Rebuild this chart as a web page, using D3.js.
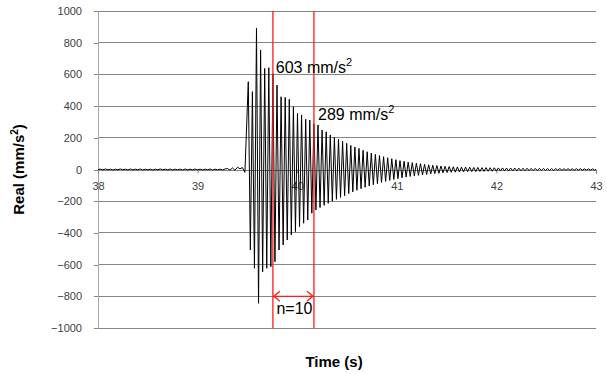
<!DOCTYPE html>
<html>
<head>
<meta charset="utf-8">
<script src="https://cdn.jsdelivr.net/npm/d3@7"></script>
<style>
  body { margin: 0; background: #fff; }
  svg { display: block; font-family: "Liberation Sans", Arial, sans-serif; }
</style>
</head>
<body>
<script>
// axis ticks
const xTicks = [38, 39, 40, 41, 42, 43];
const yTicks = [-1000, -800, -600, -400, -200, 0, 200, 400, 600, 800, 1000];

// quiet part before the hit (sampled every preStep seconds from 38 s)
const preStart = 38, preStep = 0.025;
const preValues = [0, 2, -2, 3, -2, 2, -3, 2, -2, 3,
  -2, 2, -3, 3, -2, 2, -2, 3, -3, 2,
  -2, 2, -3, 2, -2, 3, -2, 2, -2, 3,
  -3, 2, -2, 2, -3, 3, -2, 2, -2, 3,
  -2, 2, -3, 2, -2, 3, -3, 2, -2, 2,
  -3, 3, 6, -4, 10, -5, 14, 5, 12, -18];

// ringing: one positive and one negative peak per cycle
const ringStart = 39.509, cycle = 0.04116;
const peaksPos = [554, 491, 891, 754, 638, 642, 603, 533, 459, 455,
  443, 396, 354, 344, 317, 312, 289, 281, 249, 238,
  218, 203, 192, 178, 165, 152, 142, 133, 121, 112,
  104, 96, 88, 81, 74, 68, 62, 56, 52, 47,
  43, 40, 37, 33, 30, 27, 25, 22, 20, 19,
  17, 16, 15, 15, 14, 13, 13, 12, 12, 11,
  11, 10, 10, 9, 9, 9, 8, 8, 8, 7,
  7, 7, 7, 6, 6, 6, 6, 5, 5, 5,
  5, 5, 4, 4, 4];
const peaksNeg = [-508, -623, -844, -645, -623, -613, -582, -508, -476, -445,
  -413, -392, -361, -339, -319, -276, -255, -240, -226, -213,
  -200, -188, -176, -165, -152, -141, -131, -121, -112, -104,
  -96, -89, -82, -75, -69, -63, -58, -53, -48, -44,
  -40, -37, -34, -31, -28, -26, -24, -21, -19, -18,
  -17, -16, -15, -14, -13, -13, -12, -12, -11, -11,
  -10, -10, -9, -9, -9, -8, -8, -8, -7, -7,
  -7, -6, -6, -6, -6, -5, -5, -5, -5, -5,
  -4, -4, -4, -4, -4];

// markers: the two red lines (cycle 6 and cycle 16) and their notes
const markTimes = [39.756, 40.168];
const markLabels = [
  {t: 39.785, v: 608, text: "603 mm/s"},
  {t: 40.209, v: 312, text: "289 mm/s"}
];
const arrowLevel = -800, countLevel = -912, countLabel = "n=10";

// build the series
let series = preValues.map((v, i) => ({t: preStart + i * preStep, v: v}));
peaksPos.forEach((p, i) => {
  series.push({t: ringStart + i * cycle, v: p});
  series.push({t: ringStart + (i + 0.5) * cycle, v: peaksNeg[i]});
});
series.push({t: 43, v: 0});

let W = 607, H = 374;
let margin = {top: 11, right: 11, bottom: 46, left: 98};
let width = W - margin.left - margin.right,
    height = H - margin.top - margin.bottom;

let x = d3.scaleLinear().domain([38, 43]).range([0, width]);
let y = d3.scaleLinear().domain([-1000, 1000]).range([height, 0]);

let svg = d3.select("body").append("svg")
  .attr("width", W).attr("height", H);
let g = svg.append("g")
  .attr("transform", "translate(" + margin.left + "," + margin.top + ")");

// horizontal gridlines
g.append("g")
  .selectAll("line")
  .data(yTicks.filter(d => d !== 0))
  .enter().append("line")
  .attr("x1", 0).attr("x2", width)
  .attr("y1", d => y(d)).attr("y2", d => y(d))
  .attr("stroke", "#868686").attr("stroke-width", 1)
  .attr("shape-rendering", "crispEdges");

// y axis
let yAxis = g.append("g")
  .call(d3.axisLeft(y).tickValues(yTicks).tickSize(4).tickPadding(12).tickFormat(d3.format("d")));
yAxis.select(".domain").attr("stroke", "#a6a6a6").attr("shape-rendering", "crispEdges");
yAxis.selectAll(".tick line").attr("stroke", "#868686").attr("shape-rendering", "crispEdges");
yAxis.selectAll("text").attr("font-size", 11).attr("fill", "#404040")
  .attr("font-family", "Liberation Sans, Arial, sans-serif");

// x axis sitting on zero
let xAxis = g.append("g")
  .attr("transform", "translate(0," + y(0) + ")")
  .call(d3.axisBottom(x).tickValues(xTicks).tickSize(4).tickPadding(9).tickFormat(d3.format("d")));
xAxis.select(".domain").attr("stroke", "#868686").attr("shape-rendering", "crispEdges");
xAxis.selectAll(".tick line").attr("stroke", "#868686");
xAxis.selectAll("text").attr("font-size", 11).attr("fill", "#404040")
  .attr("font-family", "Liberation Sans, Arial, sans-serif");

// signal
let line = d3.line()
  .x(d => x(d.t))
  .y(d => y(d.v));
g.append("path")
  .datum(series)
  .attr("fill", "none")
  .attr("stroke", "#000")
  .attr("stroke-width", 1)
  .attr("stroke-linejoin", "miter")
  .attr("d", line);

// red marker lines
g.selectAll(".mark")
  .data(markTimes)
  .enter().append("line")
  .attr("class", "mark")
  .attr("x1", d => x(d)).attr("x2", d => x(d))
  .attr("y1", y(1000)).attr("y2", y(-1000))
  .attr("stroke", "#ff1a1a").attr("stroke-width", 1.3);

// double arrow between the marks
let ay = y(arrowLevel), ax1 = x(markTimes[0]), ax2 = x(markTimes[1]);
g.append("line")
  .attr("x1", ax1).attr("x2", ax2).attr("y1", ay).attr("y2", ay)
  .attr("stroke", "#ff1a1a").attr("stroke-width", 1.3);
g.append("path")
  .attr("d", "M" + (ax1 + 7) + "," + (ay - 5) + "L" + (ax1 + 1) + "," + ay + "L" + (ax1 + 7) + "," + (ay + 5)
    + "M" + (ax2 - 7) + "," + (ay - 5) + "L" + (ax2 - 1) + "," + ay + "L" + (ax2 - 7) + "," + (ay + 5))
  .attr("fill", "none").attr("stroke", "#ff1a1a").attr("stroke-width", 1.3);

g.append("text")
  .attr("x", (ax1 + ax2) / 2 + 1).attr("y", y(countLevel))
  .attr("text-anchor", "middle")
  .attr("font-size", 16).attr("fill", "#000")
  .text(countLabel);

// peak labels with superscript
markLabels.forEach(m => {
  let t = g.append("text")
    .attr("x", x(m.t)).attr("y", y(m.v))
    .attr("font-size", 16).attr("fill", "#000");
  t.append("tspan").text(m.text);
  t.append("tspan").attr("dy", -7).attr("font-size", 11).text("2");
});

// axis titles
svg.append("text")
  .attr("x", margin.left + x(40.37)).attr("y", 367)
  .attr("text-anchor", "middle")
  .attr("font-size", 15).attr("font-weight", "bold").attr("fill", "#000")
  .text("Time (s)");

let yl = svg.append("text")
  .attr("transform", "translate(24," + (margin.top + y(0)) + ") rotate(-90)")
  .attr("text-anchor", "middle")
  .attr("font-size", 15).attr("font-weight", "bold").attr("fill", "#000");
yl.append("tspan").text("Real (mm/s");
yl.append("tspan").attr("dy", -6).attr("font-size", 10).text("2");
yl.append("tspan").attr("dy", 6).text(")");
</script>
</body>
</html>
